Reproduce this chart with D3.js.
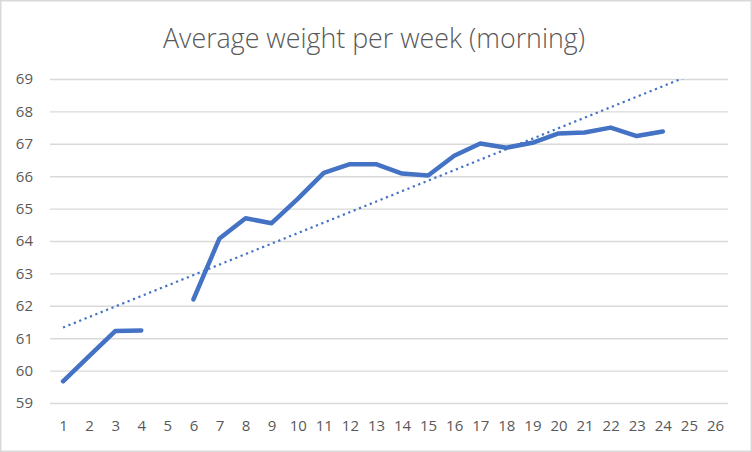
<!DOCTYPE html>
<html>
<head>
<meta charset="utf-8">
<script src="https://cdn.jsdelivr.net/npm/d3@7"></script>
<style>
  html, body { margin: 0; padding: 0; background: #fff; }
  svg { display: block; }
</style>
</head>
<body>
<svg id="chart" width="752" height="452"></svg>
<script>
// weeks shown on the category axis
const weeks = d3.range(1, 27);
// morning weight, one per week (null = no reading)
const weights = [59.67, 60.45, 61.22, 61.24, null, 62.2, 64.08, 64.7, 64.55, 65.3,
  66.1, 66.37, 66.37, 66.08, 66.02, 66.63, 67.01, 66.88, 67.03, 67.32,
  67.35, 67.5, 67.24, 67.38, null, null];
// linear trendline ends
const trendWeeks = [1, 25];
const trendValues = [61.33, 69.1];
const yTicks = d3.range(59, 70);

const width = 752, height = 452;
const margin = {top: 79, right: 24, bottom: 49, left: 50};

const svg = d3.select('#chart');

// outer chart border
svg.append('rect')
  .attr('x', 0.75).attr('y', 0.75)
  .attr('width', width - 1.5).attr('height', height - 1.5)
  .attr('fill', '#fff')
  .attr('stroke', '#d9d9d9')
  .attr('stroke-width', 1.5);

const x = d3.scalePoint()
  .domain(weeks)
  .range([margin.left, width - margin.right])
  .padding(0.5);

const y = d3.scaleLinear()
  .domain([59, 69])
  .range([height - margin.bottom, margin.top]);

svg.append('text')
  .attr('x', 374)
  .attr('y', 48)
  .attr('text-anchor', 'middle')
  .attr('textLength', 422)
  .attr('lengthAdjust', 'spacingAndGlyphs')
  .style('font-family', '"Open Sans", sans-serif')
  .style('font-weight', 300)
  .style('font-size', '27px')
  .style('fill', '#595959')
  .text('Average weight per week (morning)');

const tickFont = g => g
  .style('font-family', '"Open Sans", sans-serif')
  .style('font-size', '15px')
  .style('fill', '#595959');

// gridlines + y labels
const yAxis = d3.axisLeft(y)
  .tickValues(yTicks)
  .tickSize(-(width - margin.left - margin.right))
  .tickPadding(17)
  .tickFormat(d3.format('d'));

svg.append('g')
  .attr('transform', `translate(${margin.left},0)`)
  .call(yAxis)
  .call(g => g.select('.domain').remove())
  .call(g => g.selectAll('.tick line').attr('stroke', '#d9d9d9').attr('stroke-width', 1.4))
  .call(g => g.selectAll('.tick text').call(tickFont));

// x labels
const xAxis = d3.axisBottom(x).tickSize(0).tickPadding(17);
svg.append('g')
  .attr('transform', `translate(0,${height - margin.bottom})`)
  .call(xAxis)
  .call(g => g.select('.domain').remove())
  .call(g => g.selectAll('.tick text').call(tickFont));

svg.append('clipPath')
  .attr('id', 'plot-clip')
  .append('rect')
  .attr('x', margin.left)
  .attr('y', margin.top)
  .attr('width', width - margin.left - margin.right)
  .attr('height', height - margin.top - margin.bottom);

// trendline
const trend = trendWeeks.map((w, i) => ({week: w, value: trendValues[i]}));
svg.append('path')
  .datum(trend)
  .attr('clip-path', 'url(#plot-clip)')
  .attr('fill', 'none')
  .attr('stroke', '#4472c4')
  .attr('stroke-width', 2.2)
  .attr('stroke-dasharray', '2.2 3.6')
  .attr('d', d3.line().x(d => x(d.week)).y(d => y(d.value)));

// weight series
const series = weeks.map((w, i) => ({week: w, value: weights[i]}));
svg.append('path')
  .datum(series)
  .attr('fill', 'none')
  .attr('stroke', '#4472c4')
  .attr('stroke-width', 4.5)
  .attr('stroke-linecap', 'round')
  .attr('stroke-linejoin', 'round')
  .attr('d', d3.line()
    .defined(d => d.value != null)
    .x(d => x(d.week))
    .y(d => y(d.value)));
</script>
</body>
</html>
